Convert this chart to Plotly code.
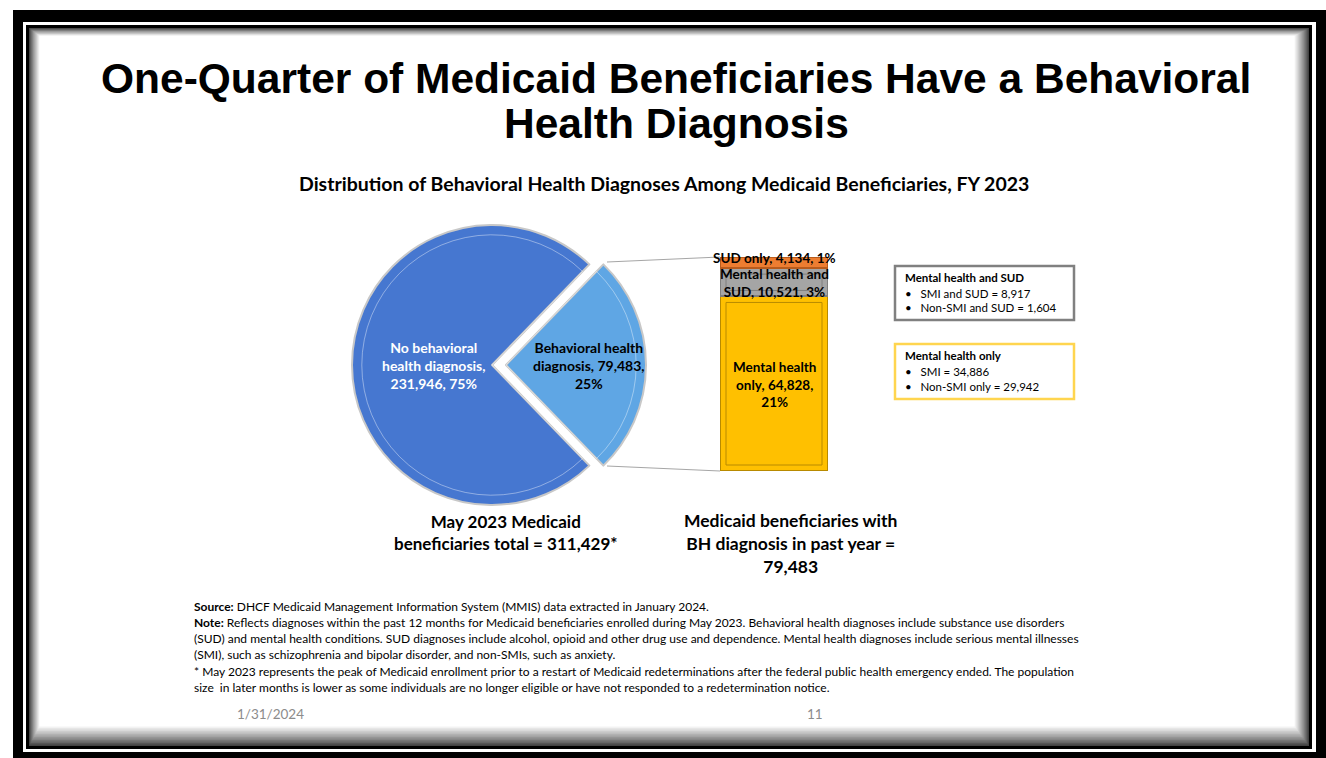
import plotly.graph_objects as go

W, H = 1326, 758

# ---------------- data ----------------
pie_labels = ["Behavioral health diagnosis", "No behavioral health diagnosis"]
pie_values = [79483, 231946]
pie_pct_labels = [25, 75]
pie_colors = ["#5FA6E4", "#4677D0"]

bar_labels = ["Mental health only", "Mental health and SUD", "SUD only"]
bar_values = [64828, 10521, 4134]
bar_pct_labels = [21, 3, 1]
bar_colors = ["#FFC000", "#A5A5A5", "#ED7D31"]
bar_edges = ["#B88A00", "#7F7F7F", "#B85B1C"]

mh_sud_items = ["SMI and SUD", "Non-SMI and SUD"]
mh_sud_values = [8917, 1604]
mh_only_items = ["SMI", "Non-SMI only"]
mh_only_values = [34886, 29942]

title_lines = ["One-Quarter of Medicaid Beneficiaries Have a Behavioral", "Health Diagnosis"]
subtitle = "Distribution of Behavioral Health Diagnoses Among Medicaid Beneficiaries, FY 2023"
footer_lines = [
    "<b>Source:</b> DHCF Medicaid Management Information System (MMIS) data extracted in January 2024.",
    "<b>Note:</b> Reflects diagnoses within the past 12 months for Medicaid beneficiaries enrolled during May 2023. Behavioral health diagnoses include substance use disorders",
    "(SUD) and mental health conditions. SUD diagnoses include alcohol, opioid and other drug use and dependence. Mental health diagnoses include serious mental illnesses",
    "(SMI), such as schizophrenia and bipolar disorder, and non-SMIs, such as anxiety.",
    "* May 2023 represents the peak of Medicaid enrollment prior to a restart of Medicaid redeterminations after the federal public health emergency ended. The population",
    "size  in later months is lower as some individuals are no longer eligible or have not responded to a redetermination notice.",
]
date_text = "1/31/2024"
page_text = "11"

total = sum(pie_values)
bh_total = pie_values[0]

FONT = "Lato"


def px(x):
    return x / W


def py(y):
    return 1 - y / H


fig = go.Figure()

# ---------------- pie ----------------
cx, cy, R = 492, 365, 140
pull = 0.1
rotation = 90 - 180 * bh_total / total


def add_pie(radius, pull_px, colors, line_col, line_w, hover):
    p = pull_px / radius
    half = radius * (1 + p)
    fig.add_trace(go.Pie(
        labels=pie_labels, values=pie_values, sort=False, direction="clockwise",
        rotation=rotation, pull=[p, 0],
        marker=dict(colors=colors, line=dict(color=line_col, width=line_w)),
        textinfo="none", hoverinfo="label+value" if hover else "skip", showlegend=False,
        domain=dict(x=[px(cx - half), px(cx + half)], y=[py(cy + half), py(cy - half)]),
    ))


add_pie(R, pull * R, pie_colors, "#C8C8C8", 2, True)
# inner bevel outline
add_pie(R * 0.93, pull * R, ["rgba(0,0,0,0)", "rgba(0,0,0,0)"], "rgba(255,255,255,0.4)", 1, False)

# ---------------- stacked bar ----------------
bx0, bx1, by0, by1 = 720, 828, 471, 257
for lab, v, c, e in zip(bar_labels, bar_values, bar_colors, bar_edges):
    fig.add_trace(go.Bar(
        x=[0], y=[v], name=lab, width=1, marker=dict(color=c, line=dict(color=e, width=2)),
        showlegend=False, hoverinfo="name+y",
    ))

fig.update_layout(
    barmode="stack",
    xaxis=dict(domain=[px(bx0), px(bx1)], range=[-0.5, 0.5], visible=False, fixedrange=True),
    yaxis=dict(domain=[py(by0), py(by1)], range=[0, bh_total], visible=False, fixedrange=True),
)

# ---------------- frame shapes ----------------
shapes = []
shapes.append(dict(type="rect", xref="paper", yref="paper", x0=px(13), x1=px(1326), y0=py(758), y1=py(10),
                   fillcolor="black", line=dict(width=0), layer="below"))
shapes.append(dict(type="rect", xref="paper", yref="paper", x0=px(23), x1=px(1316), y0=py(752), y1=py(22),
                   fillcolor="white", line=dict(width=0), layer="below"))
shapes.append(dict(type="rect", xref="paper", yref="paper", x0=px(26), x1=px(1312), y0=py(749), y1=py(25),
                   fillcolor="black", line=dict(width=0), layer="below"))
N = 14
for i in range(N):
    g = int(40 + (255 - 40) * ((i + 1) / N) ** 0.8)
    col = f"rgb({g},{g},{g})"
    shapes.append(dict(type="rect", xref="paper", yref="paper",
                       x0=px(29 + i * 0.8), x1=px(1309 - i * 1.1),
                       y0=py(746 - i * 1.5), y1=py(28 + i * 0.6),
                       fillcolor=col, line=dict(width=0), layer="below"))

# bevel inner outlines on bar segments (in bar-axis coordinates)
base = 0
inset_y = bh_total * 6 / (by0 - by1)
for v, e in zip(bar_values, bar_edges):
    if v > 3 * inset_y:
        shapes.append(dict(type="rect", xref="x", yref="y", x0=-0.5 + 6 / (bx1 - bx0), x1=0.5 - 6 / (bx1 - bx0),
                           y0=base + inset_y, y1=base + v - inset_y,
                           line=dict(color=e, width=1), fillcolor="rgba(0,0,0,0)"))
    base += v

# connector lines
shapes.append(dict(type="line", xref="paper", yref="paper", x0=px(607), y0=py(262), x1=px(bx0), y1=py(by1),
                   line=dict(color="#A6A6A6", width=1)))
shapes.append(dict(type="line", xref="paper", yref="paper", x0=px(607), y0=py(466), x1=px(bx0), y1=py(by0),
                   line=dict(color="#A6A6A6", width=1)))

# legend boxes
shapes.append(dict(type="rect", xref="paper", yref="paper", x0=px(895), x1=px(1074), y0=py(320), y1=py(266),
                   fillcolor="white", line=dict(color="#808080", width=2.5)))
shapes.append(dict(type="rect", xref="paper", yref="paper", x0=px(895), x1=px(1074), y0=py(399), y1=py(344),
                   fillcolor="white", line=dict(color="#FFD54F", width=2.5)))

fig.update_layout(shapes=shapes)

# ---------------- annotations ----------------
ann = []


def text(x, y, s, size, color="black", bold=False, xanchor="center", family=FONT):
    if bold:
        s = f"<b>{s}</b>"
    ann.append(dict(x=px(x), y=py(y), xref="paper", yref="paper", text=s, showarrow=False,
                    xanchor=xanchor, yanchor="middle", align=xanchor if xanchor != "center" else "center",
                    font=dict(size=size, color=color, family=family)))


# title
text(676, 79, title_lines[0], 42.5, bold=True, family="Liberation Sans")
text(676, 123, title_lines[1], 42.5, bold=True, family="Liberation Sans")
text(664, 184, subtitle, 19.5, bold=True)

# pie labels
no_bh = pie_values[1]
text(434, 365, f"No behavioral<br>health diagnosis,<br>{no_bh:,}, {pie_pct_labels[1]}%", 14, color="white", bold=True)
text(589, 365, f"Behavioral health<br>diagnosis, {bh_total:,},<br>{pie_pct_labels[0]}%", 14, bold=True)

# bar labels
text(774, 258, f"SUD only, {bar_values[2]:,}, {bar_pct_labels[2]}%", 13.5, bold=True)
text(774, 283, f"Mental health and<br>SUD, {bar_values[1]:,}, {bar_pct_labels[1]}%", 13.5, bold=True)
text(774, 384, f"Mental health<br>only, {bar_values[0]:,},<br>{bar_pct_labels[0]}%", 13.5, bold=True)

# legend box texts
text(903, 278, "<b>Mental health and SUD</b>", 11.5, xanchor="left")
for k, (it, v) in enumerate(zip(mh_sud_items, mh_sud_values)):
    text(903, 293 + 15 * k, f"•   {it} = {v:,}", 11.5, xanchor="left")
text(903, 356, "<b>Mental health only</b>", 11.5, xanchor="left")
for k, (it, v) in enumerate(zip(mh_only_items, mh_only_values)):
    text(903, 371 + 15 * k, f"•   {it} = {v:,}", 11.5, xanchor="left")

# captions
text(506, 532, f"May 2023 Medicaid<br>beneficiaries total = {total:,}*", 17, bold=True)
text(790, 543, f"Medicaid beneficiaries with<br>BH diagnosis in past year =<br>{bh_total:,}", 17.5, bold=True)

# footer
for k, (line, yy) in enumerate(zip(footer_lines, [606, 622, 638, 654, 671, 687])):
    text(192, yy, line, 12, xanchor="left")
text(235, 714, date_text, 13.5, color="#8C8C8C", xanchor="left")
text(815, 714, page_text, 13.5, color="#8C8C8C")

fig.update_layout(
    annotations=ann, width=W, height=H, margin=dict(l=0, r=0, t=0, b=0),
    paper_bgcolor="white", plot_bgcolor="rgba(0,0,0,0)", showlegend=False,
)

fig.write_html("out.html", config={"displayModeBar": False})
